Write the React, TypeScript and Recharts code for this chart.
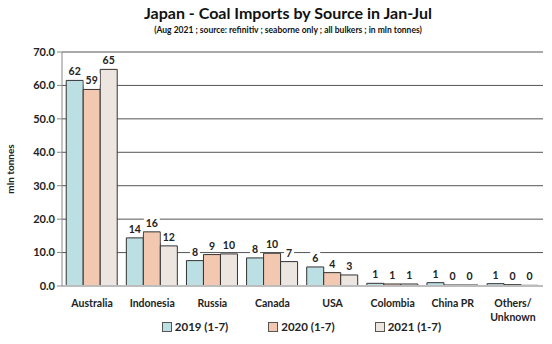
import React from "react";
import { BarChart, Bar, XAxis, YAxis, CartesianGrid, LabelList, Legend } from "recharts";

const sources = ["Australia", "Indonesia", "Russia", "Canada", "USA", "Colombia", "China PR", "Others/\nUnknown"];
const y2019 = [61.5, 14.4, 7.6, 8.4, 5.7, 0.8, 1.0, 0.7];
const y2020 = [58.8, 16.2, 9.4, 9.8, 4.0, 0.6, 0.3, 0.4];
const y2021 = [64.8, 12.0, 9.6, 7.3, 3.3, 0.6, 0.3, 0.2];
const yTicks = [0, 10, 20, 30, 40, 50, 60, 70];

const series = [
  { key: "y2019", name: "2019 (1-7)", fill: "#bcdfe3" },
  { key: "y2020", name: "2020 (1-7)", fill: "#f3c8b0" },
  { key: "y2021", name: "2021 (1-7)", fill: "#ede6e0" },
];

const data = sources.map((s, i) => ({ source: s, y2019: y2019[i], y2020: y2020[i], y2021: y2021[i] }));

const FONT = "Lato, 'Open Sans', sans-serif";

function ValueLabel(props: any) {
  const { x, y, width, value } = props;
  const txt = String(Math.round(value));
  const cx = x + width / 2;
  const w = txt.length * 6 + 4;
  return (
    <g>
      <rect x={cx - w / 2} y={y - 16} width={w} height={13} fill="#fff" />
      <text x={cx} y={y - 5} textAnchor="middle" fontSize={10.5} fontWeight={700} fill="#222" fontFamily={FONT}>
        {txt}
      </text>
    </g>
  );
}

function CatTick(props: any) {
  const { x, y, payload } = props;
  const lines = String(payload.value).split("\n");
  return (
    <text x={x} y={y + 13} textAnchor="middle" fontSize={10.5} fontWeight={700} fill="#222" fontFamily={FONT}>
      {lines.map((l, i) => (
        <tspan key={i} x={x} dy={i === 0 ? 0 : 14}>
          {l}
        </tspan>
      ))}
    </text>
  );
}

function LegendContent() {
  return (
    <div style={{ display: "flex", justifyContent: "center", gap: 40, fontFamily: FONT, fontWeight: 700, fontSize: 11.5, color: "#222", marginLeft: 60, marginTop: 6 }}>
      {series.map((s) => (
        <div key={s.key} style={{ display: "flex", alignItems: "center" }}>
          <span style={{ display: "inline-block", width: 8, height: 8, background: s.fill, border: "1px solid #555", marginRight: 3 }} />
          {s.name}
        </div>
      ))}
    </div>
  );
}

export default function App() {
  return (
    <div style={{ position: "absolute", left: 0, top: 0, width: 552, height: 344, background: "#fff" }}>
      <div style={{ position: "absolute", top: 3, left: 88, width: 400, textAlign: "center", fontFamily: FONT, fontWeight: 700, fontSize: 16, color: "#111" }}>
        Japan - Coal Imports by Source in Jan-Jul
      </div>
      <div style={{ position: "absolute", top: 25, left: 88, width: 400, textAlign: "center", fontFamily: FONT, fontWeight: 700, fontSize: 8.5, color: "#111" }}>
        (Aug 2021 ; source: refinitiv ; seaborne only ; all bulkers ; in mln tonnes)
      </div>
      <BarChart
        width={552}
        height={344}
        data={data}
        margin={{ top: 52, right: 9, left: 0, bottom: 0 }}
        barCategoryGap="7%"
        barGap={0}
      >
        <CartesianGrid horizontal vertical={false} stroke="#555" strokeWidth={1} />
        <XAxis
          dataKey="source"
          tick={<CatTick />}
          tickLine={false}
          axisLine={{ stroke: "#bdbdbd", strokeWidth: 2 }}
          interval={0}
          height={28}
        />
        <YAxis
          domain={[0, 70]}
          ticks={yTicks}
          tickFormatter={(v: number) => v.toFixed(1)}
          width={62}
          tick={{ fontSize: 11, fontWeight: 700, fill: "#222", fontFamily: FONT }}
          tickLine={{ stroke: "#888" }}
          tickSize={5}
          axisLine={{ stroke: "#888" }}
          label={{ value: "mln tonnes", angle: -90, position: "insideLeft", offset: 10, style: { fontSize: 10, fontWeight: 700, fill: "#222", fontFamily: FONT, textAnchor: "middle" } }}
        />
        <Legend verticalAlign="bottom" height={30} content={<LegendContent />} />
        {series.map((s) => (
          <Bar key={s.key} dataKey={s.key} name={s.name} fill={s.fill} stroke="#333" strokeWidth={1} isAnimationActive={false}>
            <LabelList dataKey={s.key} content={<ValueLabel />} />
          </Bar>
        ))}
      </BarChart>
    </div>
  );
}
